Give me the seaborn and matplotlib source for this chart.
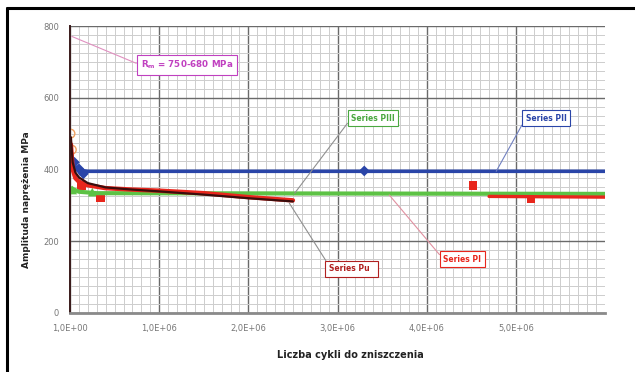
import numpy as np
import pandas as pd
import matplotlib
matplotlib.use("Agg")
import matplotlib.pyplot as plt
from matplotlib.ticker import MultipleLocator
import seaborn as sns

# Fatigue curves: number of cycles vs stress amplitude [MPa]
pu_n = [1e4, 3e4, 6e4, 1e5, 2e5, 4e5, 7e5, 1e6, 1.5e6, 2e6, 2.5e6]
pu_s = [490, 420, 392, 378, 362, 350, 344, 339, 330, 320, 311]

pi_n = [1e4, 3e4, 6e4, 1e5, 2e5, 4e5, 7e5, 1e6, 1.5e6, 2e6, 2.5e6]
pi_s = [470, 400, 376, 366, 356, 348, 344, 341, 334, 323, 314]
pi_tail_n = [4.7e6, 6.0e6]
pi_tail_s = [325, 323]
pi_pts_n = [0.13e6, 0.34e6, 4.52e6, 5.17e6]
pi_pts_s = [356, 323, 356, 320]

pii_n = [2e4, 5e4, 1e5, 2e5, 6.0e6]
pii_s = [430, 410, 398, 395, 395]
pii_pts_n = [0.05e6, 0.1e6, 0.15e6, 3.3e6]
pii_pts_s = [420, 402, 388, 396]

piii_n = [1e4, 1e5, 3e5, 6.0e6]
piii_s = [348, 338, 334, 332]
piii_pts_n = [0.03e6, 0.25e6]
piii_pts_s = [343, 337]

rm_pts_n = [0.005e6, 0.02e6]
rm_pts_s = [500, 455]

x_ticks = [0, 1e6, 2e6, 3e6, 4e6, 5e6]
x_labels = ["1,0E+00", "1,0E+06", "2,0E+06", "3,0E+06", "4,0E+06", "5,0E+06"]
y_ticks = [0, 200, 400, 600, 800]

c_pu = "#3a0d0d"
c_pi = "#e8261c"
c_pii = "#2a45a8"
c_piii = "#5dc245"

sns.set_theme(style="white")
plt.rcParams["font.family"] = ["DejaVu Sans"]

fig = plt.figure(figsize=(6.35, 3.72), dpi=100)
ax = fig.add_axes([70 / 635, 1 - 313 / 372, 535 / 635, 287 / 372])

# grid
ax.xaxis.set_minor_locator(MultipleLocator(1e5))
ax.yaxis.set_minor_locator(MultipleLocator(25))
ax.grid(which="minor", color="#cdcdcd", lw=0.7)
ax.grid(which="major", color="#6a6a6a", lw=1.0)
ax.set_axisbelow(True)

sns.lineplot(x=piii_n, y=piii_s, color=c_piii, lw=3.0, ax=ax)
sns.lineplot(x=pii_n, y=pii_s, color=c_pii, lw=2.6, ax=ax)
sns.lineplot(x=pi_tail_n, y=pi_tail_s, color=c_pi, lw=2.4, ax=ax)
sns.lineplot(x=pi_n, y=pi_s, color=c_pi, lw=3.2, ax=ax)
sns.lineplot(x=pu_n, y=pu_s, color=c_pu, lw=1.6, ax=ax)

sns.scatterplot(x=piii_pts_n, y=piii_pts_s, color=c_piii, marker="^", s=40, edgecolor="none", ax=ax)
sns.scatterplot(x=pi_pts_n, y=pi_pts_s, color=c_pi, marker="s", s=40, edgecolor="none", ax=ax)
sns.scatterplot(x=pii_pts_n, y=pii_pts_s, color=c_pii, marker="D", s=30, edgecolor="none", ax=ax)
sns.scatterplot(x=rm_pts_n, y=rm_pts_s, facecolor="none", edgecolor="#f0a060", marker="o", s=40, lw=1.0, ax=ax)

ax.set_xlim(0, 6.0e6)
ax.set_ylim(0, 800)
ax.set_xticks(x_ticks)
ax.set_xticklabels(x_labels)
ax.set_yticks(y_ticks)
ax.tick_params(axis="both", labelsize=6, labelcolor="#777777", length=3, color="#777777", pad=5)
ax.set_xlabel("")
ax.set_ylabel("")

for side in ["top", "right"]:
    ax.spines[side].set_visible(False)
ax.spines["left"].set_color("#3a1a1a")
ax.spines["left"].set_linewidth(1.4)
ax.spines["bottom"].set_color("#8a8a8a")
ax.spines["bottom"].set_linewidth(2.0)

# callout labels
def callout(text, xy, xytext, color, line_color, relpos=(0, 0.5), size=5.5):
    ax.annotate(
        text, xy=xy, xytext=xytext, textcoords="data",
        fontsize=size, fontweight="bold", color=color, ha="center", va="center",
        bbox=dict(boxstyle="square,pad=0.45", fc="white", ec=color, lw=0.8),
        arrowprops=dict(arrowstyle="-", color=line_color, lw=0.8, relpos=relpos,
                        shrinkA=0, shrinkB=0),
    )

callout("R$_{\\mathregular{m}}$ = 750-680 MPa", (0.02e6, 771), (1.31e6, 691), "#c040c0", "#e090c0", size=6.3)
callout("Series PIII", (2.52e6, 334), (3.40e6, 543), "#4aa840", "#909090")
callout("Series PII", (4.78e6, 395), (5.34e6, 543), c_pii, "#7080c0")
callout("Series PI", (3.58e6, 329), (4.40e6, 150), c_pi, "#e090a0")
callout("Series Pu  ", (2.46e6, 306), (3.16e6, 123), "#b02020", "#909090", relpos=(0, 0.9))

fig.text(27 / 635, 1 - 200 / 372, "Amplituda naprężenia MPa", rotation=90,
         ha="center", va="center", fontsize=6.5, fontweight="bold", color="#222222")
fig.text(350 / 635, 1 - 355 / 372, "Liczba cykli do zniszczenia",
         ha="center", va="center", fontsize=7, fontweight="bold", color="#222222")

# frame edges
fig.add_artist(plt.Line2D([7 / 635, 7 / 635], [0, 1 - 8 / 372], transform=fig.transFigure,
                          color="black", lw=2.2))
fig.add_artist(plt.Line2D([7 / 635, 1], [1 - 8 / 372, 1 - 8 / 372], transform=fig.transFigure,
                          color="black", lw=2.2))

fig.savefig("out.png", dpi=100)
